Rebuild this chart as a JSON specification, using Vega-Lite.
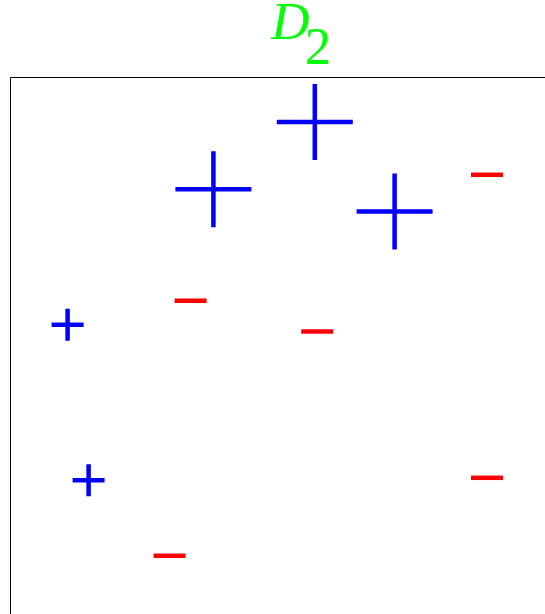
{
  "$schema": "https://vega.github.io/schema/vega-lite/v6.json",
  "autosize": {"type": "none"},
  "padding": {"left": 10, "top": 77, "right": 0, "bottom": 0},
  "width": 600,
  "height": 600,
  "background": "white",
  "data": {
    "values": [
      {"x": 0.508, "y": 0.925, "label": "+", "weight": 0.1667},
      {"x": 0.339, "y": 0.813, "label": "+", "weight": 0.1667},
      {"x": 0.641, "y": 0.776, "label": "+", "weight": 0.1667},
      {"x": 0.096, "y": 0.587, "label": "+", "weight": 0.0714},
      {"x": 0.131, "y": 0.328, "label": "+", "weight": 0.0714},
      {"x": 0.795, "y": 0.837, "label": "-", "weight": 0.0714},
      {"x": 0.301, "y": 0.627, "label": "-", "weight": 0.0714},
      {"x": 0.512, "y": 0.576, "label": "-", "weight": 0.0714},
      {"x": 0.795, "y": 0.332, "label": "-", "weight": 0.0714},
      {"x": 0.266, "y": 0.202, "label": "-", "weight": 0.0714}
    ]
  },
  "mark": {"type": "point", "filled": false, "strokeWidth": 4.5, "strokeCap": "butt", "opacity": 1},
  "encoding": {
    "x": {
      "field": "x", "type": "quantitative",
      "scale": {"domain": [0, 1], "nice": false, "zero": false},
      "axis": {
        "orient": "top", "domain": false, "ticks": false, "labels": false, "grid": false,
        "title": "2", "titleFont": "Liberation Serif", "titleFontSize": 53, "titleFontWeight": "normal",
        "titleColor": "#00ff00", "titleX": 307.5, "titleY": -14, "titleAlign": "center", "titleBaseline": "alphabetic",
        "titleAngle": 0
      }
    },
    "y": {
      "field": "y", "type": "quantitative",
      "scale": {"domain": [0, 1], "nice": false, "zero": false},
      "axis": {
        "orient": "left", "domain": false, "ticks": false, "labels": false, "grid": false,
        "title": "D", "titleFont": "Liberation Serif", "titleFontSize": 53, "titleFontWeight": "normal",
        "titleFontStyle": "italic",
        "titleColor": "#00ff00", "titleX": 280, "titleY": -39, "titleAlign": "center", "titleBaseline": "alphabetic",
        "titleAngle": 0
      }
    },
    "shape": {
      "field": "label", "type": "nominal",
      "scale": {"domain": ["+", "-"], "range": ["M-1,0H1M0,-1V1", "M-1,0H1"]},
      "legend": null
    },
    "color": {
      "field": "label", "type": "nominal",
      "scale": {"domain": ["+", "-"], "range": ["#0000ff", "#ff0000"]},
      "legend": null
    },
    "size": {
      "field": "weight", "type": "quantitative",
      "scale": {"type": "linear", "domain": [0.0714, 0.1667], "range": [1024, 5776], "zero": false},
      "legend": null
    }
  },
  "config": {
    "view": {"stroke": "#000000", "strokeWidth": 1}
  }
}
